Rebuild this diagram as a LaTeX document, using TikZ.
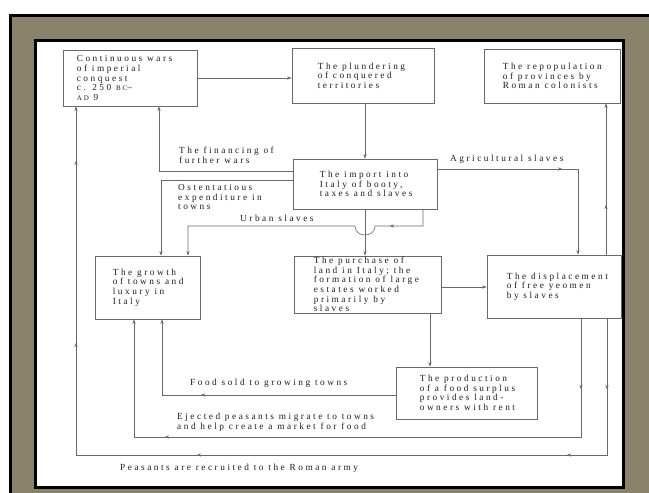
\documentclass[tikz,border=0pt]{standalone}
\usepackage{fontspec}
\setmainfont{Liberation Serif}[LetterSpace=27]
\usetikzlibrary{arrows.meta,decorations.markings}
\definecolor{frameolive}{RGB}{137,131,107}
\definecolor{lgray}{RGB}{105,105,105}
\definecolor{tgray}{RGB}{30,30,30}
\tikzset{
 box/.style={draw=lgray, line width=0.7pt, inner sep=0pt},
 txt/.style={align=left, text=tgray, font=\fontsize{9.3}{9.6}\selectfont, inner sep=0pt},
 conn/.style={draw=lgray, line width=0.6pt, -{Stealth[length=4.5pt,width=3.2pt]}},
 midarr/.style={postaction={decorate,decoration={markings,mark=at position #1 with {\arrow{Stealth[length=4.5pt,width=3.2pt]}}}}},
}
\begin{document}
\begin{tikzpicture}[x=1pt,y=-1pt]
\useasboundingbox (0,0) rectangle (649,493);
\fill[white] (0,0) rectangle (649,493);
\fill[frameolive] (10,14) rectangle (649,493);
\draw[black, line width=3pt] (10.5,493) -- (10.5,15) -- (649,15);
\draw[black, line width=3pt, fill=white] (35,40) rectangle (623,487);

% boxes
\node[box, minimum width=134pt, minimum height=56pt,
  label={[txt,anchor=west,xshift=14pt]west:{Continuous wars\\of imperial\\conquest\\c. 250 {\scriptsize BC}--\\{\scriptsize AD} 9}}] (b1) at (130,78) {};
\node[box, minimum width=142pt, minimum height=55pt,
  label={[txt,anchor=west,xshift=26pt]west:{The plundering\\of conquered\\territories}}] (plund) at (363,75.5) {};
\node[box, minimum width=136pt, minimum height=54pt,
  label={[txt,anchor=west,xshift=19pt]west:{The repopulation\\of provinces by\\Roman colonists}}] (repop) at (552,76) {};
\node[box, minimum width=144pt, minimum height=50pt,
  label={[txt,anchor=west,xshift=27pt]west:{The import into\\Italy of booty,\\taxes and slaves}}] (imp) at (365,184) {};
\node[box, minimum width=105pt, minimum height=63pt,
  label={[txt,anchor=west,xshift=18pt]west:{The growth\\of towns and\\luxury in\\Italy}}] (grow) at (147.5,287.5) {};
\node[box, minimum width=147pt, minimum height=57pt,
  label={[txt,anchor=west,xshift=20pt]west:{The purchase of\\land in Italy; the\\formation of large\\estates worked\\primarily by\\slaves}}] (purch) at (367.5,284.5) {};
\node[box, minimum width=134pt, minimum height=63pt,
  label={[txt,anchor=west,xshift=20pt]west:{The displacement\\of free yeomen\\by slaves}}] (displ) at (554,286.5) {};
\node[box, minimum width=141pt, minimum height=52pt,
  label={[txt,anchor=west,xshift=24pt]west:{The production\\of a food surplus\\provides land-\\owners with rent}}] (prod) at (466.5,393) {};

% connectors
\draw[conn] (b1.east |- 0,78) -- (plund.west |- 0,78);
\draw[conn] (plund.south -| 365,0) -- (imp.north -| 365,0);
\draw[conn] (imp.west |- 0,171) -- (159,171) -- (159,0 |- b1.south);
\draw[conn] (imp.west |- 0,180) -- (161,180) -- (161,0 |- grow.north);
\draw[conn, midarr=50pt] (imp.south -| 423,0) -- (423,226) -- (375,226)
  .. controls (375,238) and (355,238) .. (355,226) -- (188,226) -- (188,0 |- grow.north);
\draw[conn] (imp.south -| 365,0) -- (purch.north -| 365,0);
\draw[conn, midarr=125pt] (imp.east |- 0,169) -- (578,169) -- (578,0 |- displ.north);
\draw[conn] (purch.east |- 0,287) -- (displ.west |- 0,287);
\draw[conn, midarr=50pt] (displ.north -| 606,0) -- (606,0 |- repop.south);
\draw[conn, midarr=71pt, midarr=177pt, midarr=547pt, midarr=780pt, midarr=962pt]
  (displ.south -| 607,0) -- (607,455) -- (76,455) -- (76,0 |- b1.south);
\draw[conn, midarr=71pt, midarr=535pt]
  (displ.south -| 581,0) -- (581,437) -- (134,437) -- (134,0 |- grow.south);
\draw[conn] (purch.south -| 430,0) -- (prod.north -| 430,0);
\draw[conn, midarr=195pt] (prod.west |- 0,395) -- (162,395) -- (162,0 |- grow.south);

% connector labels
\node[txt, anchor=west] (lfin) at (179,155) {The financing of\\further wars};
\node[txt, anchor=west] (lost) at (178,197) {Ostentatious\\expenditure in\\towns};
\node[txt, anchor=west] (lurb) at (240,218) {Urban slaves};
\node[txt, anchor=west] (lagr) at (450,159) {Agricultural slaves};
\node[txt, anchor=west] (lfood) at (190,383) {Food sold to growing towns};
\node[txt, anchor=west] (leje) at (177,422) {Ejected peasants migrate to towns\\and help create a market for food};
\node[txt, anchor=west] (lpea) at (120,468) {Peasants are recruited to the Roman army};
\end{tikzpicture}
\end{document}
